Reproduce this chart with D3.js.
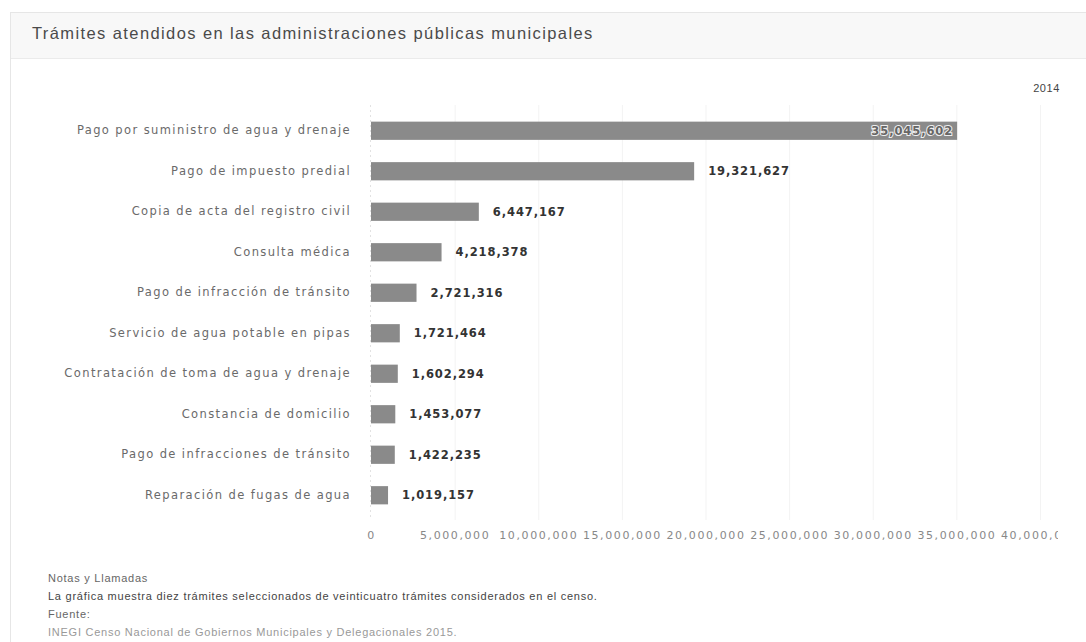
<!DOCTYPE html>
<html>
<head>
<meta charset="utf-8">
<script src="https://cdn.jsdelivr.net/npm/d3@7"></script>
<style>
  body { margin: 0; background: #fff; }
  svg { display: block; }
</style>
</head>
<body>
<div id="chart"></div>
<script>
// datos
var categories = [
    "Pago por suministro de agua y drenaje",
    "Pago de impuesto predial",
    "Copia de acta del registro civil",
    "Consulta médica",
    "Pago de infracción de tránsito",
    "Servicio de agua potable en pipas",
    "Contratación de toma de agua y drenaje",
    "Constancia de domicilio",
    "Pago de infracciones de tránsito",
    "Reparación de fugas de agua"
];
var values = [35045602, 19321627, 6447167, 4218378, 2721316, 1721464, 1602294, 1453077, 1422235, 1019157];
var tickValues = [0, 5000000, 10000000, 15000000, 20000000, 25000000, 30000000, 35000000, 40000000];
var yearLabel = "2014";
var title = "Trámites atendidos en las administraciones públicas municipales";
var notes = [
    "Notas y Llamadas",
    "La gráfica muestra diez trámites seleccionados de veinticuatro trámites considerados en el censo.",
    "Fuente:",
    "INEGI Censo Nacional de Gobiernos Municipales y Delegacionales 2015."
];

var width = 1086, height = 642;
var fmt = d3.format(",");

var svg = d3.select("#chart").append("svg")
    .attr("width", width)
    .attr("height", height);

// tarjeta
svg.append("rect")
    .attr("x", 10.5).attr("y", 12.5)
    .attr("width", width).attr("height", height)
    .attr("fill", "#fff")
    .attr("stroke", "#e6e6e6");

svg.append("rect")
    .attr("x", 11).attr("y", 13)
    .attr("width", width).attr("height", 45)
    .attr("fill", "#f8f8f8");
svg.append("line")
    .attr("x1", 11).attr("x2", width)
    .attr("y1", 58.5).attr("y2", 58.5)
    .attr("stroke", "#ebebeb");

svg.append("text")
    .attr("x", 32).attr("y", 39)
    .style("font-family", "'Liberation Sans', Arial, sans-serif")
    .style("font-size", "16.5px")
    .style("letter-spacing", "1.4px")
    .attr("fill", "#4a4a4a")
    .text(title);

svg.append("text")
    .attr("x", 1060).attr("y", 92)
    .attr("text-anchor", "end")
    .style("font-family", "'Liberation Sans', Arial, sans-serif")
    .style("font-size", "11px")
    .style("letter-spacing", "0.6px")
    .attr("fill", "#444")
    .text(yearLabel);

// escalas
var x = d3.scaleLinear().domain([0, 40000000]).range([371, 1040]);
var y = d3.scaleBand().domain(categories).range([110.5, 515.5])
    .paddingInner(0.55).paddingOuter(0.275);

svg.append("clipPath").attr("id", "clip")
    .append("rect").attr("x", 0).attr("y", 0).attr("width", 1058).attr("height", height);

// rejilla
svg.append("g").selectAll("line")
    .data(tickValues.filter(function (d) { return d > 0; }))
    .enter().append("line")
    .attr("x1", function (d) { return x(d) + 0.5; })
    .attr("x2", function (d) { return x(d) + 0.5; })
    .attr("y1", 105).attr("y2", 520)
    .attr("stroke", "#f3f3f3");

svg.append("line")
    .attr("x1", 370.5).attr("x2", 370.5)
    .attr("y1", 105).attr("y2", 520)
    .attr("stroke", "#e2e2e2")
    .style("stroke-dasharray", "2, 3");

// eje x
var xAxis = d3.axisBottom(x).tickValues(tickValues).tickFormat(fmt).tickSize(0).tickPadding(0);
var gx = svg.append("g")
    .attr("transform", "translate(0,531)")
    .attr("clip-path", "url(#clip)")
    .call(xAxis);
gx.select(".domain").remove();
gx.selectAll("text")
    .style("font-family", "'DejaVu Sans', Verdana, sans-serif")
    .style("font-size", "11px")
    .style("letter-spacing", "1.6px")
    .attr("fill", "#888");

// eje y
var yAxis = d3.axisLeft(y).tickSize(0).tickPadding(0);
var gy = svg.append("g")
    .attr("transform", "translate(351,0)")
    .call(yAxis);
gy.select(".domain").remove();
gy.selectAll("text")
    .style("font-family", "'DejaVu Sans', Verdana, sans-serif")
    .style("font-size", "11.5px")
    .style("letter-spacing", "1.4px")
    .attr("fill", "#6a6a6a");

// barras
svg.append("g").selectAll("rect")
    .data(values)
    .enter().append("rect")
    .attr("x", x(0))
    .attr("y", function (d, i) { return y(categories[i]); })
    .attr("width", function (d) { return x(d) - x(0); })
    .attr("height", y.bandwidth())
    .attr("fill", "#8a8a8a");

// etiquetas de valor
svg.append("g").selectAll("text")
    .data(values)
    .enter().append("text")
    .attr("x", function (d, i) { return i === 0 ? x(d) - 4 : x(d) + 14; })
    .attr("y", function (d, i) { return y(categories[i]) + y.bandwidth() / 2; })
    .attr("dy", "0.36em")
    .attr("text-anchor", function (d, i) { return i === 0 ? "end" : "start"; })
    .style("font-family", "'DejaVu Sans', Verdana, sans-serif")
    .style("font-size", "11.5px")
    .style("font-weight", "bold")
    .style("letter-spacing", "0.9px")
    .style("paint-order", "stroke")
    .attr("stroke", function (d, i) { return i === 0 ? "#eee" : "none"; })
    .attr("stroke-width", 2)
    .attr("fill", function (d, i) { return i === 0 ? "#666" : "#333"; })
    .text(function (d) { return fmt(d); });

// notas
svg.append("g").selectAll("text")
    .data(notes)
    .enter().append("text")
    .attr("x", 48)
    .attr("y", function (d, i) { return 582 + i * 18; })
    .style("font-family", "'Liberation Sans', Arial, sans-serif")
    .style("font-size", "11px")
    .style("letter-spacing", "0.75px")
    .attr("fill", function (d, i) { return i === 1 ? "#444" : (i === 3 ? "#999" : "#666"); })
    .text(function (d) { return d; });
</script>
</body>
</html>
